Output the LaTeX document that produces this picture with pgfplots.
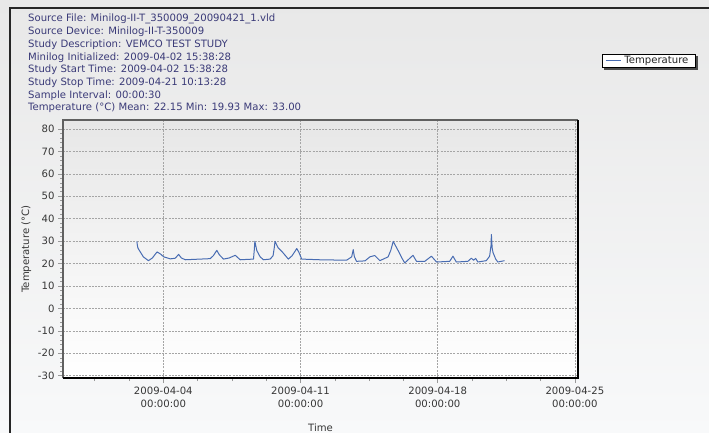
\documentclass[border=0pt]{standalone}
\usepackage{pgfplots}
\pgfplotsset{compat=1.18}
\usepackage{fontspec}
\setmainfont{DejaVu Sans}
\definecolor{bgtop}{RGB}{232,232,232}
\definecolor{bgbot}{RGB}{248,249,250}
\definecolor{titlecol}{RGB}{58,58,120}
\definecolor{tickcol}{RGB}{55,55,55}
\definecolor{linecol}{RGB}{72,108,178}
\definecolor{gridcol}{RGB}{165,165,165}
\definecolor{plottop}{RGB}{231,231,231}
\newcommand{\chartfont}{\fontsize{10.1bp}{12.8bp}\selectfont}

\pgfplotstableread{
d T
-1.35 29.9
-1.33 28.5
-1.30 27.0
-1.22 25.8
-1.02 23.0
-0.76 21.3
-0.56 22.5
-0.32 25.2
-0.15 24.3
0.02 23.0
0.36 22.1
0.61 22.4
0.78 24.1
0.92 22.5
1.12 21.7
1.88 22.0
2.39 22.2
2.55 23.5
2.73 25.9
2.85 24.0
3.07 22.0
3.36 22.5
3.67 23.7
3.92 21.7
4.60 22.0
4.64 26.0
4.67 29.9
4.77 25.8
4.94 23.0
5.11 21.7
5.45 22.0
5.60 23.5
5.66 27.0
5.70 29.9
5.86 27.0
6.04 25.5
6.38 22.0
6.57 23.5
6.81 26.7
6.92 25.0
7.06 22.0
7.99 21.7
9.35 21.5
9.61 23.0
9.69 26.2
9.75 23.0
9.86 21.0
10.29 21.2
10.54 23.0
10.79 23.6
11.05 21.3
11.47 23.0
11.61 26.0
11.73 29.9
11.98 25.8
12.17 22.5
12.32 20.3
12.74 23.7
12.92 21.0
13.34 21.0
13.68 23.3
13.94 20.7
14.61 21.0
14.78 23.3
14.95 20.7
15.54 21.0
15.72 22.4
15.83 21.5
15.94 22.3
16.05 20.7
16.48 21.3
16.65 23.3
16.72 28.0
16.74 33.0
16.78 27.0
16.82 25.0
16.96 22.0
17.07 20.7
17.41 21.3
}\temps

\begin{document}
\begin{tikzpicture}
\useasboundingbox (0,0) rectangle (709bp,433bp);
\shade[top color=bgtop, bottom color=bgbot] (0,0) rectangle (709bp,433bp);
\draw[line width=2.6bp, color=black!85] (10bp,0) -- (10bp,425bp) -- (709bp,425bp);
\begin{scope}[every node/.style={anchor=base west, inner sep=0pt, text=titlecol, font=\chartfont}]
\node at (28bp,411bp) {Source File: Minilog-II-T\_350009\_20090421\_1.vld};
\node at (28bp,398.3bp) {Source Device: Minilog-II-T-350009};
\node at (28bp,385.6bp) {Study Description: VEMCO TEST STUDY};
\node at (28bp,372.9bp) {Minilog Initialized: 2009-04-02 15:38:28};
\node at (28bp,360.2bp) {Study Start Time: 2009-04-02 15:38:28};
\node at (28bp,347.5bp) {Study Stop Time: 2009-04-21 10:13:28};
\node at (28bp,334.8bp) {Sample Interval: 00:00:30};
\node at (28bp,322.1bp) {Temperature (°C) Mean: 22.15 Min: 19.93 Max: 33.00};
\end{scope}
\begin{axis}[
  at={(63bp,55bp)}, anchor=south west,
  scale only axis, width=515bp, height=258bp,
  xmin=-5.12, xmax=21.16, ymin=-31, ymax=84,
  clip=false,
  axis background/.style={shade, top color=plottop, bottom color=white},
  axis line style={draw=none},
  xtick={0,7,14,21},
  xticklabels={{2009-04-04\\00:00:00},{2009-04-11\\00:00:00},{2009-04-18\\00:00:00},{2009-04-25\\00:00:00}},
  minor xtick={-3.5,-1.75,1.75,3.5,5.25,8.75,10.5,12.25,15.75,17.5,19.25},
  ytick={-30,-20,...,80},
  minor y tick num=4,
  tick align=outside,
  major tick length=5bp, minor tick length=3bp,
  tick style={color=gray!80, line width=0.6bp},
  xtick pos=bottom, ytick pos=left,
  xmajorgrids, ymajorgrids,
  major grid style={color=gridcol, line width=0.6bp, dash pattern=on 2bp off 1.2bp},
  /pgf/number format/assume math mode=true,
  tick label style={font=\chartfont, text=tickcol},
  x tick label style={align=center, font=\fontsize{10.1bp}{13bp}\selectfont},
  xlabel={Time}, ylabel={Temperature (°C)},
  label style={font=\chartfont, text=tickcol},
  xlabel style={yshift=-10bp},
  legend style={name=leg, at={(1.046,1.256)}, anchor=north west, font=\chartfont, text=black!85,
    draw=black, line width=0.7bp, fill=white, inner xsep=3bp, inner ysep=0.8bp,
    nodes={inner xsep=3.5bp, inner ysep=1.2bp}},
  legend image code/.code={\draw[#1, line width=0.9bp] (0bp,0bp) -- (15bp,0bp);},
]
\addplot[color=linecol, line width=1bp, line join=round] table[x=d, y=T] {\temps};
\addlegendentry{Temperature}
\draw[color=gray!75!black, line width=1.3bp] (rel axis cs:0,0) -- (rel axis cs:0,1) -- (rel axis cs:1,1);
\draw[color=black, line width=1.8bp] (rel axis cs:0,0) -- (rel axis cs:1,0) -- (rel axis cs:1,1);
\end{axis}
\fill[black!70] ([xshift=0.35bp,yshift=-2.2bp]leg.north east) rectangle ([xshift=2.4bp,yshift=-2.2bp]leg.south east);
\fill[black!70] ([xshift=2.2bp,yshift=-0.35bp]leg.south west) rectangle ([xshift=2.4bp,yshift=-2.2bp]leg.south east);
\end{tikzpicture}
\end{document}
